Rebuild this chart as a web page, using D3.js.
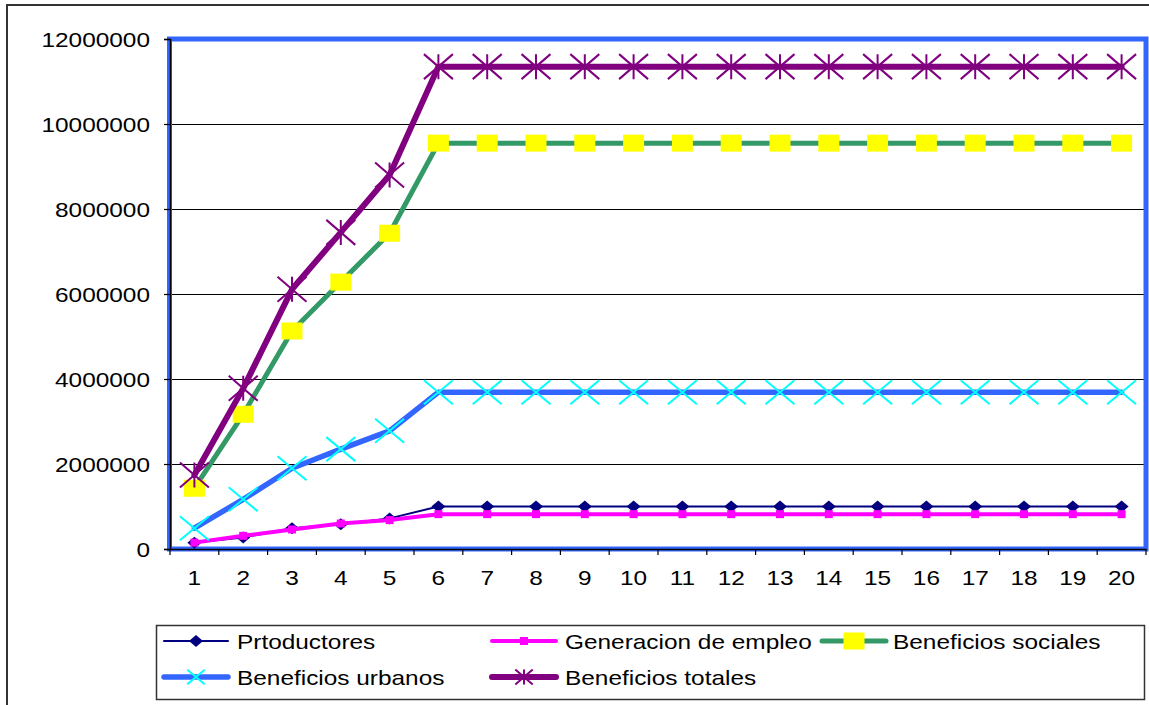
<!DOCTYPE html>
<html>
<head>
<meta charset="utf-8">
<script src="https://cdn.jsdelivr.net/npm/d3@7"></script>
<style>
  html, body { margin: 0; padding: 0; background: #fff; }
  svg { display: block; }
  text { font-family: "Liberation Sans", Arial, sans-serif; fill: #000; }
</style>
</head>
<body>
<svg id="chart" width="1149" height="705"></svg>
<script>
// Years of the projection (category axis)
const categories = [1, 2, 3, 4, 5, 6, 7, 8, 9, 10, 11, 12, 13, 14, 15, 16, 17, 18, 19, 20];

// Series values per year
const productores = [150000, 270000, 490000, 580000, 720000, 1000000, 1000000, 1000000, 1000000, 1000000,
                     1000000, 1000000, 1000000, 1000000, 1000000, 1000000, 1000000, 1000000, 1000000, 1000000];
const generacionEmpleo = [150000, 310000, 460000, 600000, 680000, 820000, 820000, 820000, 820000, 820000,
                          820000, 820000, 820000, 820000, 820000, 820000, 820000, 820000, 820000, 820000];
const beneficiosSociales = [1430000, 3170000, 5130000, 6280000, 7430000, 9550000, 9550000, 9550000, 9550000, 9550000,
                            9550000, 9550000, 9550000, 9550000, 9550000, 9550000, 9550000, 9550000, 9550000, 9550000];
const beneficiosUrbanos = [490000, 1170000, 1900000, 2350000, 2780000, 3690000, 3690000, 3690000, 3690000, 3690000,
                           3690000, 3690000, 3690000, 3690000, 3690000, 3690000, 3690000, 3690000, 3690000, 3690000];
const beneficiosTotales = [1740000, 3780000, 6110000, 7450000, 8800000, 11350000, 11350000, 11350000, 11350000, 11350000,
                           11350000, 11350000, 11350000, 11350000, 11350000, 11350000, 11350000, 11350000, 11350000, 11350000];

// Value axis ticks
const yTicks = [0, 2000000, 4000000, 6000000, 8000000, 10000000, 12000000];

const seriesNames = ["Prtoductores", "Generacion de empleo", "Beneficios sociales", "Beneficios urbanos", "Beneficios totales"];

const series = [
  { name: seriesNames[0], values: productores,        color: "#000080", width: 2,   marker: "diamond" },
  { name: seriesNames[1], values: generacionEmpleo,   color: "#FF00FF", width: 4,   marker: "smallSquare" },
  { name: seriesNames[2], values: beneficiosSociales, color: "#339966", width: 5,   marker: "bigSquare" },
  { name: seriesNames[3], values: beneficiosUrbanos,  color: "#3366FF", width: 5.5, marker: "cross" },
  { name: seriesNames[4], values: beneficiosTotales,  color: "#800080", width: 6,   marker: "star" }
];

const svg = d3.select("#chart");
const TX = 1.22; // horizontal stretch of the lettering

// Outer chart frame (runs off the right and bottom edges)
svg.append("rect")
  .attr("x", 7).attr("y", 5).attr("width", 1170).attr("height", 730)
  .attr("fill", "none").attr("stroke", "#333").attr("stroke-width", 2);

const plot = { left: 170, right: 1146, top: 39, bottom: 549 };

const x = d3.scaleBand().domain(categories).range([plot.left, plot.right]).padding(0);
const y = d3.scaleLinear().domain([0, 12000000]).range([plot.bottom, plot.top]);

// Gridlines
svg.append("g")
  .selectAll("line")
  .data(yTicks.filter(d => d > 0 && d < 12000000))
  .join("line")
  .attr("x1", plot.left).attr("x2", plot.right)
  .attr("y1", d => Math.round(y(d)) + 0.5).attr("y2", d => Math.round(y(d)) + 0.5)
  .attr("stroke", "#000").attr("stroke-width", 1);

// Plot area border
svg.append("rect")
  .attr("x", plot.left - 0.5).attr("y", plot.top)
  .attr("width", plot.right - plot.left + 0.5).attr("height", plot.bottom - plot.top)
  .attr("fill", "none").attr("stroke", "#3366FF").attr("stroke-width", 5);

// Value axis
const yAxis = d3.axisLeft(y).tickValues(yTicks).tickSize(6).tickFormat(d3.format("d"));
const yG = svg.append("g").attr("transform", `translate(${plot.left},0)`).call(yAxis);
yG.select(".domain").attr("stroke", "#000").attr("stroke-width", 1.5);
yG.selectAll(".tick line").attr("stroke", "#000").attr("stroke-width", 1.2);
yG.selectAll(".tick text").remove();
yG.selectAll(".tick").append("g")
  .attr("transform", `translate(-20,7) scale(${TX},1)`)
  .append("text")
  .attr("text-anchor", "end")
  .attr("font-size", 20)
  .text(d => d3.format("d")(d));

// Category axis: ticks at category boundaries
const xAxis = d3.axisBottom(x).tickSize(0).tickFormat("");
const xG = svg.append("g").attr("transform", `translate(0,${plot.bottom})`).call(xAxis);
xG.select(".domain").attr("stroke", "#000").attr("stroke-width", 1.5);
xG.selectAll(".tick").remove();
xG.selectAll("line.sep")
  .data(categories.concat([null]))
  .join("line")
  .attr("class", "sep")
  .attr("x1", (d, i) => i < categories.length ? x(d) : x(categories[categories.length - 1]) + x.bandwidth())
  .attr("x2", (d, i) => i < categories.length ? x(d) : x(categories[categories.length - 1]) + x.bandwidth())
  .attr("y1", 0).attr("y2", 6)
  .attr("stroke", "#000").attr("stroke-width", 1.2);
xG.selectAll("g.lab")
  .data(categories)
  .join("g")
  .attr("class", "lab")
  .attr("transform", d => `translate(${x(d) + x.bandwidth() / 2},36) scale(${TX},1)`)
  .append("text")
  .attr("text-anchor", "middle")
  .attr("font-size", 20)
  .text(d => d);

// Marker drawing
function drawMarker(g, type, color, s) {
  s = s || 1;
  if (type === "diamond") {
    g.append("path")
      .attr("d", `M0,${-6 * s}L${7 * s},0L0,${6 * s}L${-7 * s},0Z`)
      .attr("fill", color);
  } else if (type === "smallSquare") {
    g.append("rect").attr("x", -4 * s).attr("y", -4 * s).attr("width", 8 * s).attr("height", 8 * s)
      .attr("fill", "#FF00FF");
  } else if (type === "bigSquare") {
    g.append("rect").attr("x", -10.5 * s).attr("y", -8.5 * s).attr("width", 21 * s).attr("height", 17 * s)
      .attr("fill", "#FFFF00");
  } else if (type === "cross") {
    const w = 14.5 * s, h = 12 * s;
    g.append("path").attr("d", `M${-w},${-h}L${w},${h}M${w},${-h}L${-w},${h}`)
      .attr("stroke", "#00FFFF").attr("stroke-width", 2).attr("fill", "none");
  } else if (type === "star") {
    const w = 14.5 * s, h = 12.5 * s;
    g.append("path").attr("d", `M${-w},${-h}L${w},${h}M${w},${-h}L${-w},${h}M0,${-h}L0,${h}`)
      .attr("stroke", "#800080").attr("stroke-width", 2).attr("fill", "none");
  }
}

const line = d3.line()
  .x((d, i) => x(categories[i]) + x.bandwidth() / 2)
  .y(d => y(d));

// Series lines and markers, in series order
series.forEach(s => {
  const g = svg.append("g");
  g.append("path")
    .datum(s.values)
    .attr("d", line)
    .attr("fill", "none")
    .attr("stroke", s.color)
    .attr("stroke-width", s.width)
    .attr("stroke-linejoin", "round")
    .attr("stroke-linecap", "round");
  g.selectAll("g.mk")
    .data(s.values)
    .join("g")
    .attr("class", "mk")
    .attr("transform", (d, i) => `translate(${x(categories[i]) + x.bandwidth() / 2},${y(d)})`)
    .each(function () { drawMarker(d3.select(this), s.marker, s.color); });
});

// Legend
svg.append("rect")
  .attr("x", 156.5).attr("y", 625.5).attr("width", 988).attr("height", 74)
  .attr("fill", "#fff").attr("stroke", "#333").attr("stroke-width", 1.5);

const legendPos = [
  { lx: 162, tx: 237, y: 641 },
  { lx: 490, tx: 565, y: 641 },
  { lx: 820, tx: 893, y: 641 },
  { lx: 162, tx: 237, y: 677 },
  { lx: 490, tx: 565, y: 677 }
];

series.forEach((s, i) => {
  const p = legendPos[i];
  const g = svg.append("g");
  g.append("line")
    .attr("x1", p.lx + 2).attr("x2", p.lx + 66)
    .attr("y1", p.y).attr("y2", p.y)
    .attr("stroke", s.color).attr("stroke-width", s.width)
    .attr("stroke-linecap", "round");
  const m = g.append("g").attr("transform", `translate(${p.lx + 34},${p.y})`);
  const sc = (s.marker === "cross" || s.marker === "star") ? 0.6 : 1;
  drawMarker(m, s.marker, s.color, sc);
  g.append("g")
    .attr("transform", `translate(${p.tx},${p.y + 7.5}) scale(${TX},1)`)
    .append("text")
    .attr("font-size", 20)
    .text(s.name);
});
</script>
</body>
</html>
